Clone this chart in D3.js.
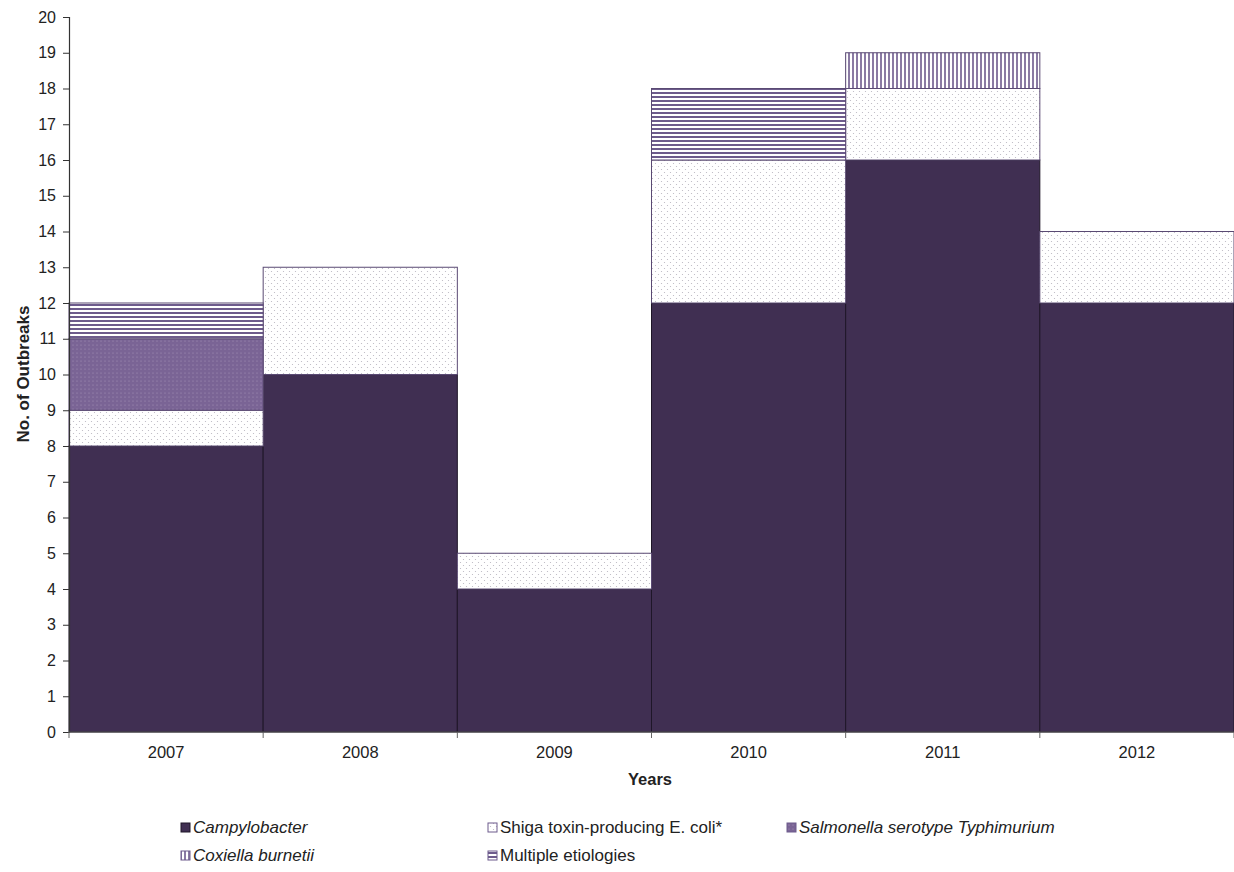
<!DOCTYPE html>
<html>
<head>
<meta charset="utf-8">
<script src="https://cdn.jsdelivr.net/npm/d3@7"></script>
<style>
  html, body { margin: 0; padding: 0; background: #fff; }
  svg { display: block; font-family: "Liberation Sans", Arial, sans-serif; }
</style>
</head>
<body>
<svg id="chart" width="1234" height="872"></svg>
<script>
// Outbreak counts by year and etiology
const years = ["2007", "2008", "2009", "2010", "2011", "2012"];
const campylobacter = [8, 10, 4, 12, 16, 12];
const stec = [1, 3, 1, 4, 2, 2];
const salmonella = [2, 0, 0, 0, 0, 0];
const coxiella = [0, 0, 0, 0, 1, 0];
const multiple = [1, 0, 0, 2, 0, 0];
const yTicks = d3.range(0, 21);

const seriesKeys = ["campy", "stec", "salm", "cox", "mult"];
const seriesNames = {
  campy: "Campylobacter",
  stec: "Shiga toxin-producing E. coli*",
  salm: "Salmonella serotype Typhimurium",
  cox: "Coxiella burnetii",
  mult: "Multiple etiologies"
};
const seriesItalic = { campy: true, stec: false, salm: true, cox: true, mult: false };

const table = years.map((y, i) => ({
  year: y,
  campy: campylobacter[i],
  stec: stec[i],
  salm: salmonella[i],
  cox: coxiella[i],
  mult: multiple[i]
}));

const svg = d3.select("#chart");
const W = 1234;
const plotLeft = 69;

const x = d3.scaleBand().domain(years).range([plotLeft, W]).padding(0);
const y = d3.scaleLinear().domain([0, 20]).range([732, 17]);

// Fill patterns
const defs = svg.append("defs");

const pDots = defs.append("pattern").attr("id", "p-stec")
  .attr("patternUnits", "userSpaceOnUse").attr("width", 6).attr("height", 6);
pDots.append("rect").attr("width", 6).attr("height", 6).attr("fill", "#ffffff");
pDots.append("circle").attr("cx", 1.5).attr("cy", 1.5).attr("r", 0.6).attr("fill", "#b8b4bf");
pDots.append("circle").attr("cx", 4.5).attr("cy", 4.5).attr("r", 0.6).attr("fill", "#b8b4bf");

const pSalm = defs.append("pattern").attr("id", "p-salm")
  .attr("patternUnits", "userSpaceOnUse").attr("width", 4).attr("height", 4);
pSalm.append("rect").attr("width", 4).attr("height", 4).attr("fill", "#7a6495");
pSalm.append("circle").attr("cx", 1).attr("cy", 1).attr("r", 0.55).attr("fill", "#a896bb");

const pH = defs.append("pattern").attr("id", "p-mult")
  .attr("patternUnits", "userSpaceOnUse").attr("width", 4).attr("height", 4);
pH.append("rect").attr("width", 4).attr("height", 4).attr("fill", "#ffffff");
pH.append("rect").attr("y", 0).attr("width", 4).attr("height", 2).attr("fill", "#6d5b8c");

const pV = defs.append("pattern").attr("id", "p-cox")
  .attr("patternUnits", "userSpaceOnUse").attr("width", 4).attr("height", 4);
pV.append("rect").attr("width", 4).attr("height", 4).attr("fill", "#ffffff");
pV.append("rect").attr("x", 0).attr("width", 2).attr("height", 4).attr("fill", "#8a7aa3");

const fills = {
  campy: "#402f52",
  stec: "url(#p-stec)",
  salm: "url(#p-salm)",
  cox: "url(#p-cox)",
  mult: "url(#p-mult)"
};

// Stacked bars
const stack = d3.stack().keys(seriesKeys);
const layers = stack(table);

const g = svg.append("g");
layers.forEach(layer => {
  const key = layer.key;
  g.selectAll(null)
    .data(layer.filter(d => d[1] > d[0]))
    .join("rect")
    .attr("x", d => x(d.data.year))
    .attr("width", x.bandwidth())
    .attr("y", d => y(d[1]))
    .attr("height", d => y(d[0]) - y(d[1]))
    .attr("fill", fills[key])
    .attr("stroke", key === "campy" ? "#1e1628" : "#5a4a73")
    .attr("stroke-width", 1);
});

// Y axis
const yAxis = d3.axisLeft(y).tickValues(yTicks).tickSize(6).tickPadding(7);
const gy = svg.append("g").attr("transform", `translate(${plotLeft},0)`).call(yAxis);
gy.select(".domain").attr("stroke", "#333").attr("stroke-width", 1.2);
gy.selectAll(".tick line").attr("stroke", "#333");
gy.selectAll(".tick text").attr("font-size", 16).attr("fill", "#222")
  .attr("font-family", "'Liberation Sans', Arial, sans-serif");

// X axis with ticks at category boundaries
const gx = svg.append("g").attr("transform", `translate(0,${y(0)})`);
gx.append("line").attr("x1", plotLeft).attr("x2", W).attr("stroke", "#555").attr("stroke-width", 1);
const bounds = years.map(d => x(d)).concat([x(years[years.length - 1]) + x.bandwidth()]);
gx.selectAll("line.tk").data(bounds).join("line").attr("class", "tk")
  .attr("x1", d => d).attr("x2", d => d).attr("y1", 0).attr("y2", 6)
  .attr("stroke", "#666");
gx.selectAll("text").data(years).join("text")
  .attr("x", d => x(d) + x.bandwidth() / 2)
  .attr("y", 26)
  .attr("text-anchor", "middle")
  .attr("font-size", 16.5).attr("fill", "#222")
  .text(d => d);

// Axis titles
svg.append("text")
  .attr("x", 650).attr("y", 785)
  .attr("text-anchor", "middle")
  .attr("font-size", 16.5).attr("font-weight", "bold").attr("fill", "#222")
  .text("Years");
svg.append("text")
  .attr("transform", "translate(29,374) rotate(-90)")
  .attr("text-anchor", "middle")
  .attr("font-size", 17).attr("font-weight", "bold").attr("fill", "#222")
  .text("No. of Outbreaks");

// Legend
const legendPos = {
  campy: [181, 833],
  stec: [488, 833],
  salm: [787, 833],
  cox: [181, 861],
  mult: [488, 861]
};
const leg = svg.append("g");
seriesKeys.forEach(k => {
  const [lx, ly] = legendPos[k];
  leg.append("rect")
    .attr("x", lx).attr("y", ly - 10).attr("width", 9).attr("height", 9)
    .attr("fill", fills[k])
    .attr("stroke", k === "campy" ? "#1e1628" : "#6d5b8c").attr("stroke-width", 1);
  leg.append("text")
    .attr("x", lx + 12).attr("y", ly)
    .attr("font-size", 17).attr("fill", "#222")
    .attr("font-style", seriesItalic[k] ? "italic" : "normal")
    .text(seriesNames[k]);
});
</script>
</body>
</html>
